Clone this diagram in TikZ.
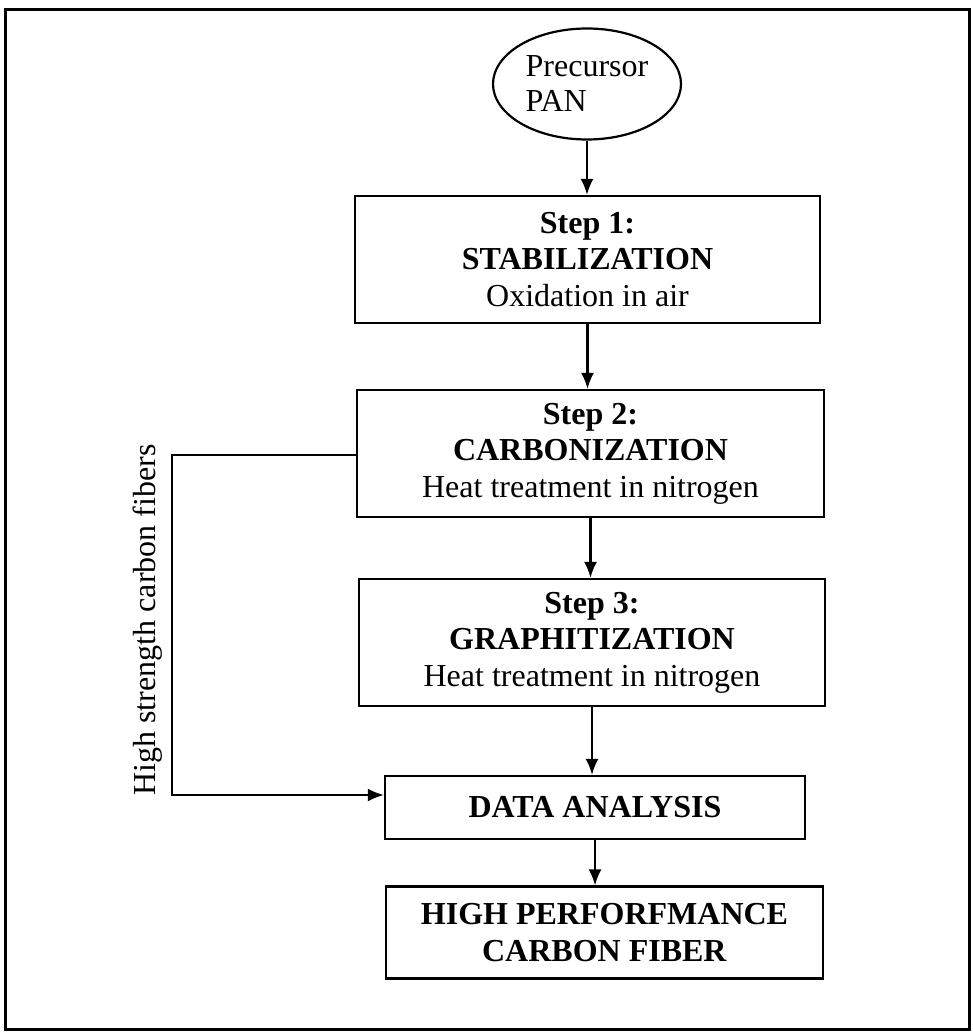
\documentclass[tikz,border=0pt]{standalone}
\usepackage{fontspec}
\setmainfont{Liberation Serif}
\usepackage{tikz}
\usetikzlibrary{shapes.geometric,arrows.meta}

\begin{document}
\begin{tikzpicture}[x=1pt,y=-1pt,line width=2.2pt,
  stepbox/.style n args={2}{rectangle,draw,minimum width=#1pt,minimum height=#2pt,inner sep=0pt,align=center,font=\fontsize{32}{36.5}\selectfont},
  flow/.style={-{Latex[length=16pt,width=13pt]}}]
\useasboundingbox (0,0) rectangle (973,1032);
\draw[line width=3pt] (5,10) rectangle (969,1029);
\node[ellipse,draw,minimum width=188pt,minimum height=111pt,inner sep=0pt,align=left,font=\fontsize{32}{35}\selectfont](pan) at(587,84) {Precursor\\PAN};
\node[stepbox={465}{127}](s1) at(587.5,259.5) {\textbf{Step 1:}\\\textbf{STABILIZATION}\\Oxidation in air};
\node[stepbox={467}{127}](s2) at(590.5,453.5) {\textbf{Step 2:}\\\textbf{CARBONIZATION}\\Heat treatment in nitrogen};
\node[stepbox={466}{127}](s3) at(592,642.5) {\textbf{Step 3:}\\\textbf{GRAPHITIZATION}\\Heat treatment in nitrogen};
\node[stepbox={420}{63}](da) at(595,807.5) {\textbf{DATA ANALYSIS}};
\node[stepbox={437}{92}](cf) at(604.5,932.5) {\textbf{HIGH PERFORFMANCE}\\\textbf{CARBON FIBER}};
\node[rotate=90,font=\fontsize{32}{36}\selectfont](hs) at(148,620) {High strength carbon fibers};
% main line
\draw[flow] (pan.south) -- (pan.south |- s1.north);
\draw[flow] (s1.south) -- (s1.south |- s2.north);
\draw[flow] (s2.south) -- (s2.south |- s3.north);
\draw[flow] (s3.south) -- (s3.south |- da.north);
\draw[flow] (da.south) -- (da.south |- cf.north);
% bypass
\coordinate (fb) at (172,455);
\draw[flow] (s2.west |- fb) -- (fb) |- ([yshift=12.5pt]da.west);
\end{tikzpicture}
\end{document}
